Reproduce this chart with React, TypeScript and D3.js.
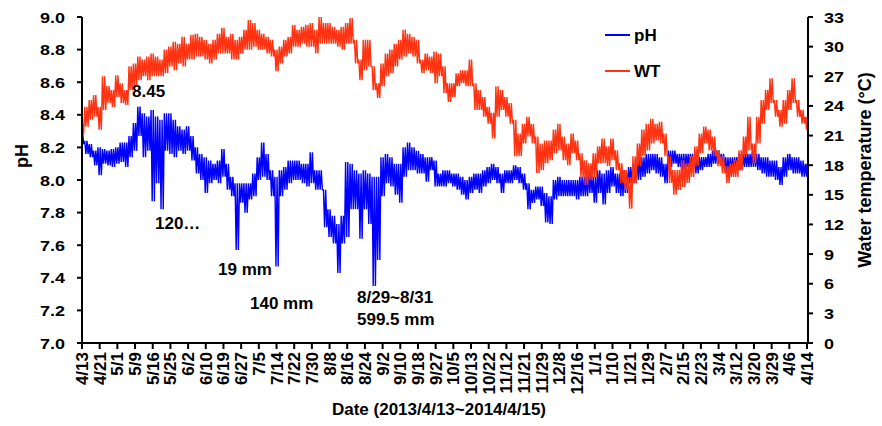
import React from "react";
import * as d3 from "d3";

const TICK_LABELS = ["4/13","4/21","5/1","5/9","5/16","5/25","6/2","6/10","6/19","6/27","7/5","7/14","7/22","7/30","8/8","8/16","8/24","9/2","9/10","9/18","9/27","10/5","10/13","10/22","11/12","11/21","11/29","12/8","12/16","1/1","1/10","1/21","1/29","2/7","2/15","2/23","3/4","3/12","3/20","3/29","4/6","4/14"];

// pH band (upper / lower envelope), 4 samples per tick interval
const PH_HI = [8.30,8.24,8.22,8.18,8.20,8.19,8.18,8.19,8.20,8.23,8.23,8.27,8.35,8.45,8.41,8.39,8.43,8.39,8.37,8.41,8.41,8.37,8.33,8.31,8.33,8.27,8.20,8.16,8.14,8.12,8.10,8.12,8.19,8.10,8.02,7.98,7.98,7.98,7.98,8.04,8.14,8.23,8.16,8.06,8.02,8.06,8.08,8.12,8.12,8.12,8.10,8.10,8.17,8.06,8.06,7.94,7.82,7.78,7.73,7.78,8.11,8.10,8.06,8.04,8.06,8.04,8.02,8.02,8.14,8.16,8.14,8.10,8.10,8.20,8.23,8.20,8.18,8.16,8.14,8.14,8.12,8.04,8.06,8.06,8.04,8.04,8.02,8.00,8.02,8.04,8.04,8.06,8.08,8.10,8.08,8.04,8.06,8.06,8.09,8.08,8.04,7.98,7.94,7.96,7.96,7.92,7.90,8.00,8.02,8.00,8.00,8.00,8.00,8.02,8.02,8.04,8.02,8.06,8.04,8.06,8.08,8.04,8.04,8.06,8.08,8.10,8.14,8.14,8.16,8.16,8.16,8.14,8.10,8.18,8.18,8.16,8.16,8.16,8.16,8.14,8.14,8.14,8.16,8.18,8.18,8.16,8.14,8.14,8.14,8.16,8.16,8.16,8.18,8.16,8.14,8.14,8.12,8.12,8.08,8.14,8.16,8.14,8.14,8.12,8.10];
const PH_LO = [8.22,8.16,8.14,8.09,8.03,8.10,8.09,8.08,8.10,8.11,8.08,8.14,8.18,8.27,8.14,8.18,7.87,7.98,7.82,8.18,8.16,8.14,8.18,8.16,8.18,8.12,8.04,8.00,7.92,7.98,8.00,7.98,8.02,7.94,7.90,7.57,7.86,7.80,7.88,7.90,8.00,8.02,8.00,7.90,7.47,7.90,7.94,7.98,8.00,8.00,7.98,7.96,7.98,7.94,7.94,7.71,7.65,7.61,7.43,7.61,7.65,7.82,7.82,7.64,7.82,7.73,7.35,7.51,7.90,7.98,7.96,7.91,7.86,8.02,8.06,8.06,8.04,8.04,7.99,8.06,7.96,7.96,7.96,7.98,7.96,7.94,7.91,7.88,7.92,7.94,7.92,7.96,7.98,8.00,7.98,7.92,7.98,7.98,8.00,7.98,7.94,7.82,7.86,7.88,7.84,7.74,7.73,7.88,7.90,7.90,7.90,7.90,7.88,7.90,7.90,7.92,7.86,7.92,7.85,7.92,7.96,7.92,7.90,7.92,7.98,7.98,8.00,8.02,8.04,8.06,8.04,8.02,7.98,8.08,8.10,8.08,8.06,8.08,8.08,8.04,8.06,8.08,8.08,8.10,8.10,8.08,8.04,8.04,8.06,8.06,8.08,8.08,8.08,8.06,8.04,8.02,8.02,8.00,7.97,8.02,8.06,8.04,8.04,8.02,8.02];

// Water temperature band (upper / lower envelope)
const WT_HI = [22.2,23.9,24.6,25.1,23.9,27.0,26.0,25.6,27.1,26.3,25.6,28.0,28.3,29.0,28.7,29.0,29.3,29.0,28.7,29.7,30.0,30.5,30.3,31.0,30.3,31.2,31.3,31.0,30.7,30.3,30.7,31.3,31.9,31.0,31.3,30.7,31.0,31.7,32.7,32.4,31.7,31.3,31.0,30.7,29.7,30.0,30.7,31.0,32.2,31.7,32.0,32.2,32.4,31.7,33.0,32.4,32.4,32.0,31.7,32.0,32.4,32.9,30.7,28.7,30.7,30.7,28.0,26.3,28.3,29.3,29.7,30.3,30.7,31.7,31.3,31.0,30.7,28.7,29.3,29.0,29.5,29.3,28.0,26.3,26.3,27.3,27.6,27.6,28.7,26.3,25.6,24.9,23.9,23.3,26.0,25.6,24.9,24.3,22.6,21.2,22.2,22.9,22.2,20.9,20.2,20.5,20.5,21.6,22.2,20.9,20.2,21.2,20.5,19.2,18.5,18.2,19.2,19.9,20.7,19.9,20.7,19.5,18.2,17.5,16.8,18.9,20.2,21.6,22.2,22.7,22.2,22.4,21.2,18.9,17.5,17.5,18.5,18.2,18.9,19.9,21.2,21.9,21.6,20.9,19.5,18.9,17.9,18.2,18.5,19.5,20.9,22.9,20.2,22.9,24.6,25.6,26.8,24.6,23.6,24.6,25.6,26.8,24.6,23.6,22.9];
const WT_LO = [21.2,21.9,22.6,22.9,21.6,23.6,24.3,23.9,24.9,24.3,24.1,25.6,26.0,26.6,27.0,26.6,27.0,27.0,27.0,27.3,28.0,27.6,28.3,28.0,28.7,28.7,29.0,29.0,28.7,28.3,28.7,29.3,29.3,29.3,28.7,28.7,29.3,29.7,29.7,30.0,29.7,29.7,29.3,29.0,27.5,28.3,29.0,29.3,30.0,30.0,30.3,30.0,30.0,29.3,30.3,30.3,30.3,30.3,30.0,29.7,30.3,30.3,28.3,26.6,27.6,28.0,25.6,24.8,26.0,27.0,27.3,28.0,28.7,29.0,29.3,29.0,28.3,27.3,27.6,27.3,26.3,27.0,25.3,24.4,24.9,26.0,26.3,26.0,26.0,23.6,23.6,22.9,22.2,20.7,22.9,23.6,22.9,22.2,18.9,18.9,20.2,20.9,20.2,17.2,17.5,18.2,18.5,19.2,19.5,18.5,18.0,19.2,18.5,16.8,16.0,16.5,16.8,18.2,18.2,17.9,18.5,17.5,16.2,15.5,13.6,16.2,17.9,18.9,19.5,20.2,20.5,20.2,18.9,16.2,15.0,15.5,15.8,16.2,16.8,17.9,19.2,20.2,19.5,18.9,17.9,17.2,16.2,16.8,16.8,17.5,18.9,19.5,18.2,20.2,22.2,23.6,24.3,22.9,21.9,22.2,23.6,24.3,22.9,22.2,21.6];

const PH_TICKS = [7.0,7.2,7.4,7.6,7.8,8.0,8.2,8.4,8.6,8.8,9.0];
const WT_TICKS = [0,3,6,9,12,15,18,21,24,27,30,33];

const W = 882, H = 426;
const L = 82, R = 807, T = 17, B = 343;
const FONT = "'Liberation Sans', Arial, sans-serif";

export default function App() {
  const n = PH_HI.length - 1;
  const x = d3.scaleLinear().domain([0, n]).range([L, R]);
  const yPh = d3.scaleLinear().domain([7, 9]).range([B, T]);
  const yWt = d3.scaleLinear().domain([0, 33]).range([B, T]);
  const tickStep = n / (TICK_LABELS.length - 1);

  // each sample is drawn as two up/down strokes between its upper and lower reading
  const band = (hi: number[], lo: number[], y: d3.ScaleLinear<number, number>) => {
    const pts: [number, number][] = [];
    const offs = [-0.375, -0.125, 0.125, 0.375];
    hi.forEach((h, i) => {
      offs.forEach((o, k) => {
        const xi = Math.min(n, Math.max(0, i + o));
        pts.push([x(xi), y(k % 2 === 0 ? h : lo[i])]);
      });
    });
    return d3.line()(pts) || "";
  };

  const blue = "#0000FF";
  const red = "#FF3311";

  return (
    <svg width={W} height={H} style={{ position: "absolute", left: 0, top: 0, background: "#fff" }} fontFamily={FONT} fontWeight="bold">
      <path d={band(PH_HI, PH_LO, yPh)} fill="none" stroke={blue} strokeWidth={1.4} strokeLinejoin="bevel" />
      <path d={band(WT_HI, WT_LO, yWt)} fill="none" stroke={red} strokeWidth={1.4} strokeLinejoin="bevel" />

      {/* axes */}
      <line x1={L} x2={L} y1={T} y2={B} stroke="#000" strokeWidth={2} />
      <line x1={R + 1} x2={R + 1} y1={T} y2={B} stroke="#000" strokeWidth={2} />
      <line x1={L - 5} x2={R + 6} y1={B} y2={B} stroke="#000" strokeWidth={2} />
      {PH_TICKS.map((v) => (
        <g key={"p" + v}>
          <line x1={L - 5} x2={L} y1={yPh(v)} y2={yPh(v)} stroke="#000" strokeWidth={2} />
          <text x={0} y={0} transform={`translate(${L - 17},${yPh(v) + 5.5}) scale(1.2,1)`} textAnchor="end" fontSize={15}>{v.toFixed(1)}</text>
        </g>
      ))}
      {WT_TICKS.map((v) => (
        <g key={"w" + v}>
          <line x1={R + 1} x2={R + 6} y1={yWt(v)} y2={yWt(v)} stroke="#000" strokeWidth={2} />
          <text x={0} y={0} transform={`translate(${R + 17},${yWt(v) + 5.5}) scale(1.2,1)`} textAnchor="start" fontSize={15}>{v}</text>
        </g>
      ))}
      {TICK_LABELS.map((lab, k) => {
        const xp = x(k * tickStep);
        return (
          <g key={"x" + k}>
            <line x1={xp} x2={xp} y1={B} y2={B + 6} stroke="#000" strokeWidth={2} />
            <text transform={`translate(${xp + 6},${B + 9}) rotate(-90)`} textAnchor="end" fontSize={17}>{lab}</text>
          </g>
        );
      })}

      {/* axis titles */}
      <text transform={`translate(28,156) rotate(-90)`} textAnchor="middle" fontSize={18}>pH</text>
      <text transform={`translate(871,170) rotate(-90)`} textAnchor="middle" fontSize={18}>Water temperature (°C)</text>
      <text x={439} y={415} textAnchor="middle" fontSize={17}>Date (2013/4/13~2014/4/15)</text>

      {/* legend */}
      <line x1={605} x2={630} y1={35} y2={35} stroke={blue} strokeWidth={2} />
      <text x={634} y={41} fontSize={17}>pH</text>
      <line x1={605} x2={630} y1={71} y2={71} stroke={red} strokeWidth={2} />
      <text x={634} y={77} fontSize={17}>WT</text>

      {/* annotations */}
      <text x={132} y={97} fontSize={17}>8.45</text>
      <text x={155} y={229} fontSize={17}>120…</text>
      <text x={218} y={275} fontSize={17}>19 mm</text>
      <text x={250} y={309} fontSize={17}>140 mm</text>
      <text x={357} y={303} fontSize={17}>8/29~8/31</text>
      <text x={357} y={325} fontSize={17}>599.5 mm</text>
    </svg>
  );
}
